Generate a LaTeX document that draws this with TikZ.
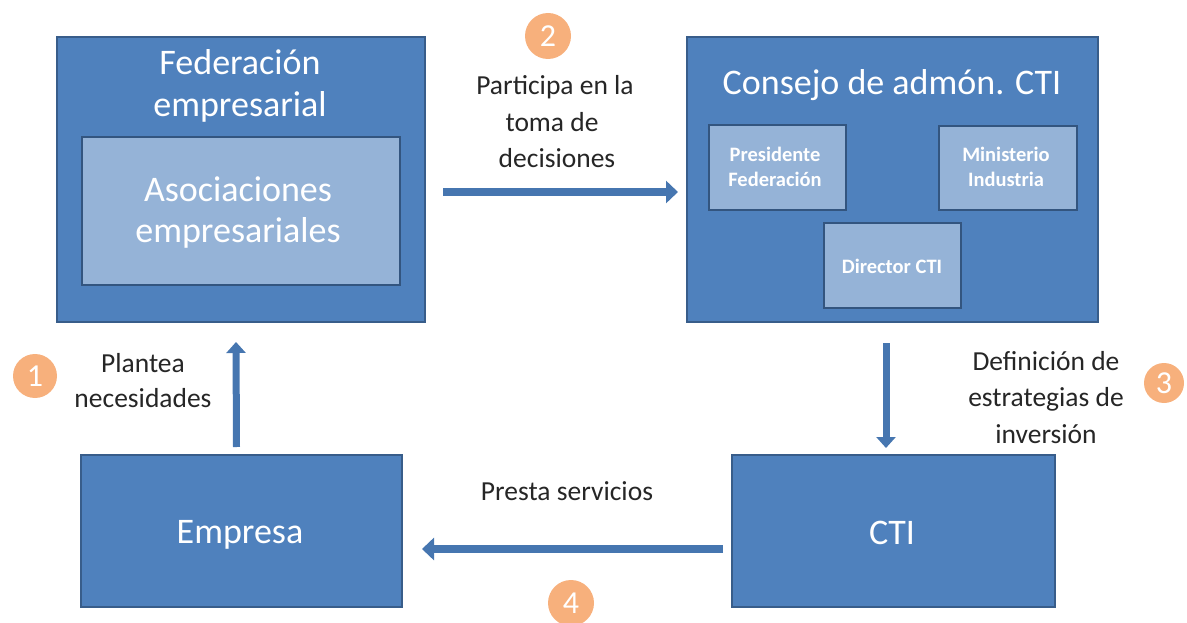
\documentclass[tikz,border=0pt]{standalone}
\usepackage{fontspec}
\setmainfont{Carlito}
\usetikzlibrary{arrows.meta}
\definecolor{boxblue}{HTML}{4F81BD}
\definecolor{boxedge}{HTML}{385D8A}
\definecolor{inneredge}{HTML}{33557F}
\definecolor{lightblue}{HTML}{95B3D7}
\definecolor{arrowblue}{HTML}{4676B0}
\definecolor{numorange}{HTML}{F7B07C}
\definecolor{labelgray}{HTML}{262626}
\begin{document}
\begin{tikzpicture}[x=1pt,y=-1pt,
  outerbox/.style={draw=boxedge, line width=1.8pt, fill=boxblue, inner sep=0pt, outer sep=0pt},
  innerbox/.style={draw=inneredge, line width=2.8pt, fill=lightblue, inner sep=0pt, outer sep=0pt},
  bigtxt/.style={text=white, inner sep=0pt, anchor=base, font=\fontsize{36}{42}\selectfont},
  smalltxt/.style={text=white, inner sep=0pt, anchor=base, font=\bfseries\fontsize{20.5}{24}\selectfont},
  lbl/.style={text=labelgray, inner sep=0pt, anchor=base, font=\fontsize{27.5}{32}\selectfont},
  numcirc/.style={circle, fill=numorange, inner sep=0pt, text=white, font=\fontsize{32}{36}\selectfont},
  arr/.style={draw=arrowblue, line width=7.5pt, -{Triangle[width=22pt,length=12pt]}},
  varr/.style={draw=arrowblue, line width=7pt, -{Triangle[width=19pt,length=11pt]}}
]
\useasboundingbox (0,0) rectangle (1187,623);

% main boxes
\node[outerbox, minimum width=368pt, minimum height=285pt] (fed) at (241,179.5) {};
\node[innerbox, minimum width=318pt, minimum height=148pt] (aso) at (241,211) {};
\node[outerbox, minimum width=411pt, minimum height=285pt] (cons) at (892.5,179.5) {};
\node[innerbox, minimum width=137pt, minimum height=85pt] (pres) at (777.5,167.5) {};
\node[innerbox, minimum width=138pt, minimum height=84pt] (mini) at (1008,168) {};
\node[innerbox, minimum width=137pt, minimum height=85pt] (dir) at (892.5,265.5) {};
\node[outerbox, minimum width=321pt, minimum height=152pt] (emp) at (241.5,531) {};
\node[outerbox, minimum width=323pt, minimum height=152pt] (cti) at (893.5,531) {};

% box texts
\node[bigtxt] (fedt1) at (240,75) {Federación};
\node[bigtxt] (fedt2) at (240,117) {empresarial};
\node[bigtxt] (asot1) at (238,202) {Asociaciones};
\node[bigtxt] (asot2) at (238,242) {empresariales};
\node[bigtxt] (const) at (892,95) {Consejo de admón. CTI};
\node[smalltxt] (prest1) at (775,162) {Presidente};
\node[smalltxt] (prest2) at (775,187) {Federación};
\node[smalltxt] (minit1) at (1006,162) {Ministerio};
\node[smalltxt] (minit2) at (1006,187) {Industria};
\node[smalltxt] (dirt) at (892,273) {Director CTI};
\node[bigtxt] (empt) at (240,543) {Empresa};
\node[bigtxt] (ctit) at (892,544) {CTI};

% connector labels
\node[lbl] (l2a) at (555,95) {Participa en la};
\node[lbl] (l2b) at (552,132) {toma de};
\node[lbl] (l2c) at (557,168) {decisiones};
\node[lbl] (l1a) at (143,372) {Plantea};
\node[lbl] (l1b) at (143,407) {necesidades};
\node[lbl] (l3a) at (1046,370) {Definición de};
\node[lbl] (l3b) at (1046,406) {estrategias de};
\node[lbl] (l3c) at (1046,443) {inversión};
\node[lbl] (l4) at (567,500) {Presta servicios};

% number circles
\node[numcirc, minimum size=44pt] (n1) at (35,376) {1};
\node[numcirc, minimum size=46pt] (n2) at (548,36) {2};
\node[numcirc, minimum size=40pt] (n3) at (1164,383) {3};
\node[numcirc, minimum size=46pt] (n4) at (571,603) {4};

% connectors
\draw[varr] ([xshift=-5pt,yshift=8pt]emp.north) -- ([xshift=-5pt,yshift=-20pt]fed.south);
\draw[arr] ([xshift=18pt,yshift=-12.5pt]fed.east) -- ([xshift=-9pt,yshift=-12.5pt]cons.west);
\draw[varr] ([xshift=-6.5pt,yshift=-21pt]cons.south) -- ([xshift=-7.5pt,yshift=7pt]cti.north);
\draw[arr] ([xshift=-9pt,yshift=-18pt]cti.west) -- ([xshift=20pt,yshift=-18pt]emp.east);
\end{tikzpicture}
\end{document}
